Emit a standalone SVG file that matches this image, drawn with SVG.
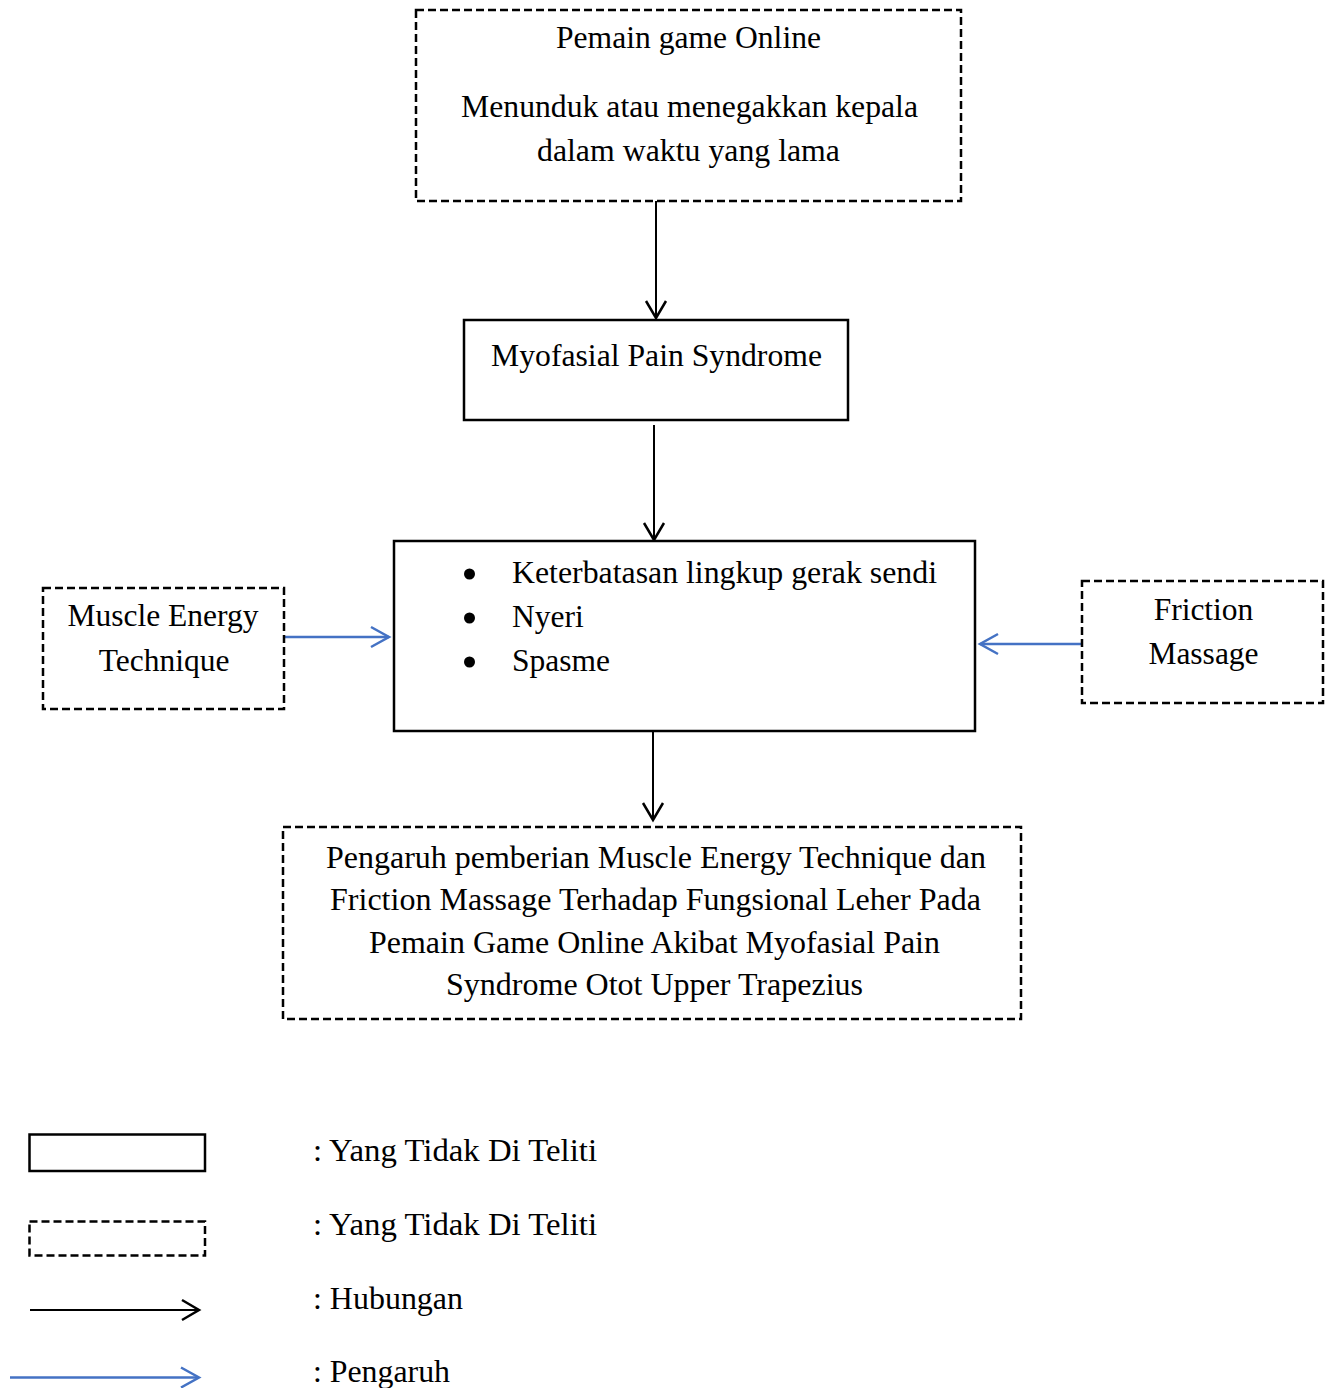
<svg xmlns="http://www.w3.org/2000/svg" width="1334" height="1388" viewBox="0 0 1334 1388">
<style>
text{font-family:"Liberation Serif","Times New Roman",serif;font-size:31.5px;fill:#000}
.c{text-anchor:middle}
.solid{fill:#fff;stroke:#000;stroke-width:2.5}
.dash{fill:#fff;stroke:#000;stroke-width:2.5;stroke-dasharray:8 4}
.blk{stroke:#000;stroke-width:2;fill:none}
.blu{stroke:#4472C4;stroke-width:2.5;fill:none}
</style>
<defs>
<marker id="ab" markerUnits="userSpaceOnUse" markerWidth="24" markerHeight="24" viewBox="-20 -12 24 24" refX="0" refY="0" orient="auto">
<path d="M-17,-10 L0,0 L-17,10" fill="none" stroke="#000" stroke-width="2.5"/>
</marker>
<marker id="au" markerUnits="userSpaceOnUse" markerWidth="24" markerHeight="24" viewBox="-20 -12 24 24" refX="0" refY="0" orient="auto">
<path d="M-18,-10 L0,0 L-18,10" fill="none" stroke="#4472C4" stroke-width="2.5"/>
</marker>
</defs>
<g id="connectors">
<line class="blk" x1="656" y1="201" x2="656" y2="318" marker-end="url(#ab)"/>
<line class="blk" x1="654" y1="425" x2="654" y2="540" marker-end="url(#ab)"/>
<line class="blk" x1="653" y1="726" x2="653" y2="820" marker-end="url(#ab)"/>
<line class="blu" x1="284" y1="637" x2="389" y2="637" marker-end="url(#au)"/>
<line class="blu" x1="1082" y1="644" x2="980" y2="644" marker-end="url(#au)"/>
</g>
<g id="n-pemain">
<rect class="dash" x="416" y="10" width="545" height="191"/>
<text class="c" x="688.5" y="48" textLength="265" lengthAdjust="spacingAndGlyphs">Pemain game Online</text>
<text class="c" x="689.5" y="117" textLength="457" lengthAdjust="spacingAndGlyphs">Menunduk atau menegakkan kepala</text>
<text class="c" x="688.5" y="161" textLength="303" lengthAdjust="spacingAndGlyphs">dalam waktu yang lama</text>
</g>
<g id="n-myofasial">
<rect class="solid" x="464" y="320" width="384" height="100"/>
<text class="c" x="656.5" y="366" textLength="331" lengthAdjust="spacingAndGlyphs">Myofasial Pain Syndrome</text>
</g>
<g id="n-gejala">
<rect class="solid" x="394" y="541" width="581" height="190"/>
<circle cx="469.5" cy="574" r="5.5"/>
<circle cx="469.5" cy="618" r="5.5"/>
<circle cx="469.5" cy="662" r="5.5"/>
<text x="512" y="583" textLength="425" lengthAdjust="spacingAndGlyphs">Keterbatasan lingkup gerak sendi</text>
<text x="512" y="627">Nyeri</text>
<text x="512" y="671">Spasme</text>
</g>
<g id="n-met">
<rect class="dash" x="43" y="588" width="241" height="121"/>
<text class="c" x="163" y="626">Muscle Energy</text>
<text class="c" x="164" y="671">Technique</text>
</g>
<g id="n-friction">
<rect class="dash" x="1082" y="581" width="241" height="122"/>
<text class="c" x="1203.5" y="620">Friction</text>
<text class="c" x="1203.5" y="664">Massage</text>
</g>
<g id="n-pengaruh">
<rect class="dash" x="283" y="827" width="738" height="192"/>
<text class="c" x="656" y="868" textLength="660" lengthAdjust="spacingAndGlyphs">Pengaruh pemberian Muscle Energy Technique dan</text>
<text class="c" x="655.5" y="910" textLength="651" lengthAdjust="spacingAndGlyphs">Friction Massage Terhadap Fungsional Leher Pada</text>
<text class="c" x="654.5" y="953" textLength="571" lengthAdjust="spacingAndGlyphs">Pemain Game Online Akibat Myofasial Pain</text>
<text class="c" x="654.5" y="995" textLength="417" lengthAdjust="spacingAndGlyphs">Syndrome Otot Upper Trapezius</text>
</g>
<g id="legend">
<rect class="solid" x="29.5" y="1134.5" width="175.5" height="36.5"/>
<text x="313" y="1161" textLength="284" lengthAdjust="spacingAndGlyphs">: Yang Tidak Di Teliti</text>
<rect class="dash" x="29.5" y="1221.5" width="175.5" height="34"/>
<text x="313" y="1235" textLength="284" lengthAdjust="spacingAndGlyphs">: Yang Tidak Di Teliti</text>
<line class="blk" x1="30" y1="1310" x2="199" y2="1310" marker-end="url(#ab)"/>
<text x="313" y="1309" textLength="150" lengthAdjust="spacingAndGlyphs">: Hubungan</text>
<line class="blu" x1="10" y1="1377.5" x2="199" y2="1377.5" marker-end="url(#au)"/>
<text x="313" y="1382" textLength="137" lengthAdjust="spacingAndGlyphs">: Pengaruh</text>
</g>
</svg>
